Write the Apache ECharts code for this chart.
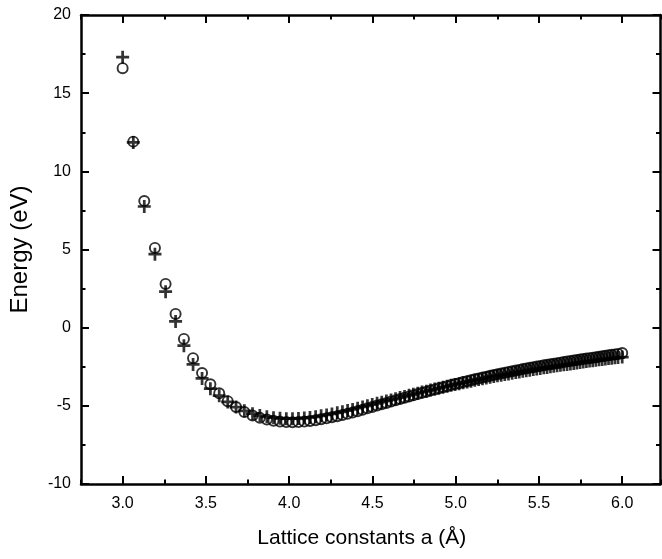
<!DOCTYPE html>
<html>
<head>
<meta charset="utf-8">
<script src="https://cdn.jsdelivr.net/npm/echarts@6/dist/echarts.min.js"></script>
<style>
html,body{margin:0;padding:0;background:#fff;}
#chart{width:662px;height:559px;}
</style>
</head>
<body>
<div id="chart"></div>
<script>
// Lattice constant a (Å)
const latticeA = [
3.000,3.064,3.130,3.194,3.258,3.318,3.368,3.423,3.477,3.527,3.580,3.631,3.681,3.731,3.780,
3.824,3.866,3.906,3.945,3.983,4.020,4.056,4.091,4.125,4.159,4.192,4.225,4.257,4.289,4.320,
4.351,4.381,4.411,4.441,4.470,4.499,4.528,4.556,4.584,4.612,4.639,4.666,4.693,4.720,4.746,
4.772,4.798,4.824,4.849,4.874,4.899,4.924,4.949,4.973,4.997,5.021,5.045,5.069,5.092,5.115,
5.138,5.161,5.184,5.207,5.229,5.251,5.273,5.295,5.317,5.339,5.361,5.382,5.403,5.424,5.445,
5.466,5.487,5.508,5.529,5.549,5.569,5.589,5.609,5.629,5.649,5.669,5.689,5.709,5.728,5.747,
5.766,5.785,5.804,5.823,5.842,5.861,5.880,5.899,5.918,5.937,5.956,5.975,6.000
];
// Energy (eV), open circles
const energyCircle = [
16.60,11.90,8.10,5.10,2.80,0.88,-0.72,-1.95,-2.90,-3.62,-4.20,-4.70,-5.08,-5.40,-5.62,
-5.77,-5.88,-5.96,-6.01,-6.04,-6.05,-6.04,-6.01,-5.97,-5.92,-5.86,-5.80,-5.73,-5.66,-5.58,
-5.50,-5.42,-5.34,-5.25,-5.16,-5.07,-4.98,-4.90,-4.82,-4.73,-4.65,-4.57,-4.49,-4.41,-4.33,
-4.25,-4.17,-4.10,-4.02,-3.95,-3.88,-3.81,-3.74,-3.67,-3.61,-3.55,-3.48,-3.42,-3.36,-3.30,
-3.25,-3.19,-3.14,-3.08,-3.03,-2.98,-2.93,-2.88,-2.83,-2.79,-2.74,-2.70,-2.65,-2.61,-2.57,
-2.53,-2.49,-2.45,-2.41,-2.38,-2.34,-2.31,-2.27,-2.24,-2.20,-2.17,-2.14,-2.10,-2.07,-2.04,
-2.01,-1.98,-1.95,-1.92,-1.89,-1.86,-1.83,-1.80,-1.77,-1.74,-1.71,-1.68,-1.62
];
// Energy (eV), plus markers
const energyPlus = [
17.30,11.85,7.75,4.70,2.30,0.40,-1.15,-2.35,-3.25,-3.90,-4.35,-4.75,-5.08,-5.32,-5.50,
-5.62,-5.70,-5.76,-5.80,-5.82,-5.82,-5.81,-5.78,-5.74,-5.70,-5.64,-5.58,-5.52,-5.45,-5.38,
-5.30,-5.23,-5.15,-5.07,-5.00,-4.92,-4.84,-4.77,-4.69,-4.62,-4.55,-4.47,-4.40,-4.33,-4.26,
-4.19,-4.12,-4.06,-3.99,-3.93,-3.87,-3.81,-3.75,-3.69,-3.63,-3.58,-3.52,-3.47,-3.42,-3.37,
-3.32,-3.27,-3.22,-3.17,-3.13,-3.08,-3.04,-3.00,-2.96,-2.91,-2.87,-2.83,-2.79,-2.76,-2.72,
-2.68,-2.64,-2.61,-2.57,-2.54,-2.50,-2.47,-2.44,-2.41,-2.38,-2.35,-2.32,-2.29,-2.26,-2.23,
-2.20,-2.17,-2.14,-2.12,-2.09,-2.06,-2.04,-2.01,-1.98,-1.96,-1.93,-1.91,-1.88
];
const xTickValues = [3.0,3.5,4.0,4.5,5.0,5.5,6.0];
const xTickLabels = ['3.0','3.5','4.0','4.5','5.0','5.5','6.0'];
const yTickValues = [-10,-5,0,5,10,15,20];
const yTickLabels = ['-10','-5','0','5','10','15','20'];
const xTitle = 'Lattice constants a (\u00C5)';
const yTitle = 'Energy (eV)';

const FONT = '"Liberation Sans", Arial, Helvetica, sans-serif';
const X_MIN = 2.75, X_MAX = 6.23;
const blackLine = {color:'#000', width:2};

function xAxisDef(pos, major, labels) {
  const a = {
    type:'value', position:pos, min:X_MIN, max:X_MAX,
    splitLine:{show:false},
    axisLine:{show:major, onZero:false, lineStyle:{color:'#000', width:2.5}},
    axisLabel:{show:false}
  };
  if (major) {
    a.axisTick = {show:true, inside:true, length:8, customValues:xTickValues, lineStyle:blackLine};
  } else {
    a.interval = 0.25;
    a.axisTick = {show:true, inside:true, length:4.5, lineStyle:blackLine};
  }
  if (labels) {
    a.axisLabel = {
      show:true, customValues:xTickValues, margin:12, color:'#000', fontSize:16, fontFamily:FONT,
      formatter:(v)=>{ const i = xTickValues.findIndex(t=>Math.abs(t-v)<1e-6); return i>=0 ? xTickLabels[i] : ''; }
    };
    a.name = xTitle; a.nameLocation = 'middle'; a.nameGap = 44;
    a.nameTextStyle = {color:'#000', fontSize:21, fontFamily:FONT, padding:[0,18,0,0]};
  }
  return a;
}
function yAxisDef(pos, labels) {
  const a = {
    type:'value', position:pos, min:-10, max:20, interval:5,
    splitLine:{show:false},
    axisLine:{show:true, onZero:false, lineStyle:{color:'#000', width:2.5}},
    axisTick:{show:true, inside:true, length:8, lineStyle:blackLine},
    minorTick:{show:true, splitNumber:2, length:4.5, lineStyle:blackLine},
    minorSplitLine:{show:false},
    axisLabel:{show:false}
  };
  if (labels) {
    a.axisLabel = {
      show:true, margin:10, color:'#000', fontSize:16, fontFamily:FONT,
      formatter:(v)=>{ const i = yTickValues.indexOf(v); return i>=0 ? yTickLabels[i] : ''; }
    };
    a.name = yTitle; a.nameLocation = 'middle'; a.nameGap = 49; a.nameRotate = 90;
    a.nameTextStyle = {color:'#000', fontSize:24, fontFamily:FONT};
  }
  return a;
}

const ringPath = 'path://M5,0 A5,5 0 1,1 5,10 A5,5 0 1,1 5,0 Z M5,1.6 A3.4,3.4 0 1,0 5,8.4 A3.4,3.4 0 1,0 5,1.6 Z';
const plusPath = 'path://M3.95,0 H6.05 V3.95 H10 V6.05 H6.05 V10 H3.95 V6.05 H0 V3.95 H3.95 Z';

const chart = echarts.init(document.getElementById('chart'), null, {renderer:'canvas'});
chart.setOption({
  animation:false,
  backgroundColor:'#fff',
  grid:{left:80, right:1.5, top:15, bottom:75, containLabel:false},
  xAxis:[xAxisDef('bottom', true, true), xAxisDef('top', true, false), xAxisDef('bottom', false, false), xAxisDef('top', false, false)],
  yAxis:[yAxisDef('left', true), yAxisDef('right', false)],
  series:[
    {type:'scatter', xAxisIndex:0, yAxisIndex:0, symbol:ringPath, symbolSize:12,
     itemStyle:{color:'#000'}, silent:true,
     data: latticeA.map((x,i)=>[x, energyCircle[i]])},
    {type:'scatter', xAxisIndex:0, yAxisIndex:0, symbol:plusPath, symbolSize:13,
     itemStyle:{color:'#000'}, silent:true,
     data: latticeA.map((x,i)=>[x, energyPlus[i]])}
  ]
});
</script>
</body>
</html>
